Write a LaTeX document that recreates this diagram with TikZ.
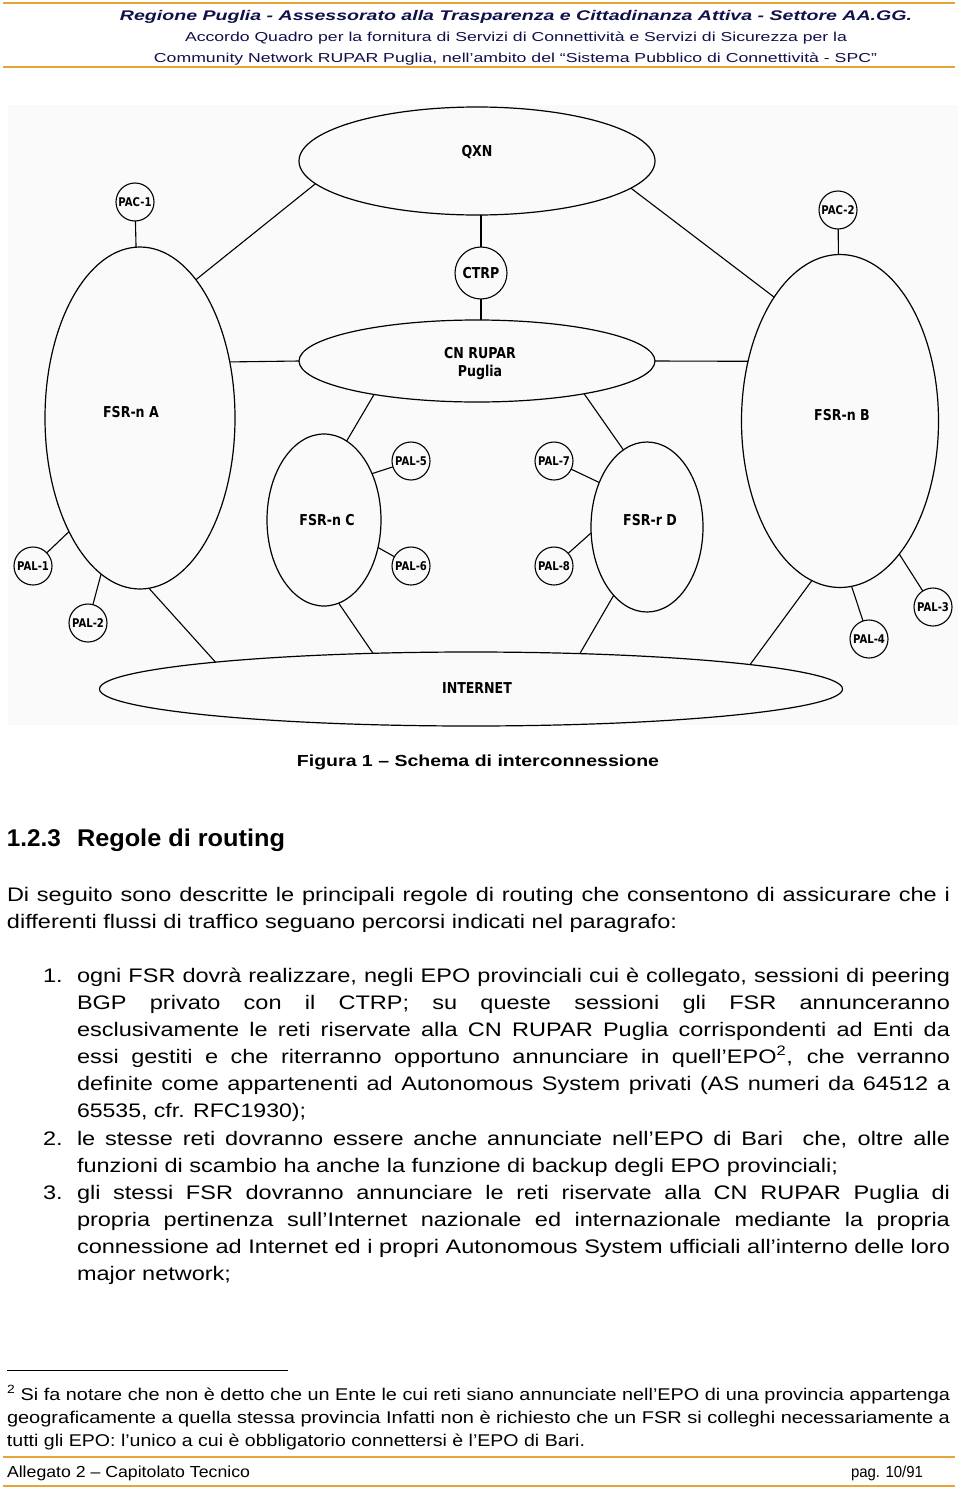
\documentclass[tikz,border=0pt]{standalone}
\usepackage{fontspec}
\usepackage{graphicx}
\usetikzlibrary{shapes.geometric}
\setmainfont{Liberation Sans}
\newfontfamily\bodyfam{Liberation Sans}[FakeStretch=1.2]
\newfontfamily\lblfam{DejaVu Sans}[FakeStretch=0.84]
\definecolor{gold}{HTML}{E6A537}
\definecolor{hdr}{HTML}{10104A}
\definecolor{diagbg}{HTML}{FAFAFA}
\newsavebox\jbox
\newcommand\fitw[2]{\resizebox{#1}{\height}{#2}}
\newcommand\jline[2]{\sbox\jbox{#2}\ifdim\wd\jbox>#1\relax\resizebox{#1}{\height}{\usebox\jbox}\else\makebox[#1][s]{#2}\fi}
\newcommand\fbody{\bodyfam\fontsize{19.6}{24}\selectfont}
\newcommand\fnote{\bodyfam\fontsize{17}{21}\selectfont}
\newcommand\ffoot{\bodyfam\fontsize{16}{20}\selectfont}
\begin{document}
\begin{tikzpicture}[x=1pt,y=-1pt,
  txt/.style={anchor=base west,inner sep=0pt,outer sep=0pt},
  ctxt/.style={anchor=base,inner sep=0pt,outer sep=0pt},
  ell/.style={ellipse,draw,line width=1.2pt,inner sep=0pt,outer sep=0pt},
  smallc/.style={circle,draw,line width=1.1pt,inner sep=0pt,outer sep=0pt,minimum size=38pt,
     font=\lblfam\bfseries\fontsize{12}{14}\selectfont},
  lbl/.style={inner sep=0pt,outer sep=0pt,font=\lblfam\bfseries\fontsize{15}{18}\selectfont,align=center},
  conn/.style={line width=1.1pt},
  goldline/.style={draw=gold,line width=2pt}]
\useasboundingbox[fill=white] (0,0) rectangle (960,1491);
% header
\draw[goldline] (3,3) -- (955,3);
\draw[goldline] (3,67) -- (955,67);
\node[ctxt,text=hdr] (h1) at (516,20) {\bodyfam\bfseries\itshape\fontsize{14}{16}\selectfont\fitw{792pt}{Regione Puglia - Assessorato alla Trasparenza e Cittadinanza Attiva - Settore AA.GG.}};
\node[ctxt,text=hdr] (h2) at (516,41) {\bodyfam\fontsize{13}{15}\selectfont\fitw{662pt}{Accordo Quadro per la fornitura di Servizi di Connettività e Servizi di Sicurezza per la}};
\node[ctxt,text=hdr] (h3) at (515.5,62) {\bodyfam\fontsize{13}{15}\selectfont\fitw{723pt}{Community Network RUPAR Puglia, nell’ambito del “Sistema Pubblico di Connettività - SPC”}};
% diagram background
\fill[diagbg] (8,105) rectangle (958,725);
% diagram nodes
\node[ell,minimum width=356pt,minimum height=108pt] (qxn) at (477,161) {};
\node[lbl] (qxnt) at (477,152) {QXN};
\node[smallc,minimum size=52pt,font=\lblfam\bfseries\fontsize{15}{18}\selectfont] (ctrp) at (481,273) {CTRP};
\node[ell,minimum width=356pt,minimum height=82pt] (cn) at (477,361) {};
\node[lbl,font=\lblfam\bfseries\fontsize{15}{18}\selectfont] (cnt) at (480,364) {CN RUPAR\\Puglia};
\node[ell,minimum width=190pt,minimum height=342pt] (fsrA) at (140,418) {};
\node[lbl] (fsrAt) at (131,412) {FSR-n A};
\node[ell,minimum width=197pt,minimum height=333pt] (fsrB) at (840,421) {};
\node[lbl] (fsrBt) at (842,415) {FSR-n B};
\node[ell,minimum width=114pt,minimum height=172pt] (fsrC) at (324,520) {};
\node[lbl] (fsrCt) at (327,520) {FSR-n C};
\node[ell,minimum width=112pt,minimum height=170pt] (fsrD) at (647,527) {};
\node[lbl] (fsrDt) at (650,520) {FSR-r D};
\node[ell,minimum width=743pt,minimum height=74pt] (inet) at (471,689) {};
\node[lbl] (inett) at (477,688) {INTERNET};
\node[smallc] (pac1) at (135,202) {PAC-1};
\node[smallc] (pac2) at (838,210) {PAC-2};
\node[smallc] (pal1) at (33,566) {PAL-1};
\node[smallc] (pal2) at (88,623) {PAL-2};
\node[smallc] (pal3) at (933,607) {PAL-3};
\node[smallc] (pal4) at (869,639) {PAL-4};
\node[smallc] (pal5) at (411,461) {PAL-5};
\node[smallc] (pal6) at (411,566) {PAL-6};
\node[smallc] (pal7) at (554,461) {PAL-7};
\node[smallc] (pal8) at (554,566) {PAL-8};
% connectors
\draw[conn] (pac1) -- (fsrA);
\draw[conn] (pac2) -- (fsrB);
\draw[conn] (qxn.188) -- (fsrA.68);
\draw[conn] (qxn.350) -- (fsrB.118);
\draw[conn] (ctrp.north) -- (ctrp.north |- qxn.south);
\draw[conn] (ctrp.south) -- (ctrp.south |- cn.north);
\draw[conn] (cn.west) -- (fsrA.32);
\draw[conn] (cn.east) -- (fsrB.147);
\draw[conn] (cn.198) -- (fsrC.74);
\draw[conn] (cn.343) -- (fsrD.107);
\draw[conn] (pal5) -- (fsrC.44);
\draw[conn] (pal6) -- (fsrC.333);
\draw[conn] (pal7) -- (fsrD.137);
\draw[conn] (pal8) -- (fsrD.186);
\draw[conn] (pal1) -- (fsrA.238);
\draw[conn] (pal2) -- (fsrA.256);
\draw[conn] (pal3) -- (fsrB.294);
\draw[conn] (pal4) -- (fsrB.274);
\draw[conn] (fsrA.273) -- (inet.174);
\draw[conn] (fsrC.280) -- (inet.160);
\draw[conn] (fsrD.244) -- (inet.18);
\draw[conn] (fsrB.260) -- (inet.5);
% caption and heading
\node[ctxt] (cap) at (478,766) {\bodyfam\bfseries\fontsize{16}{19}\selectfont\fitw{362pt}{Figura 1 – Schema di interconnessione}};
\node[txt] (hnum) at (7,846) {\bodyfam\bfseries\fontsize{24.2}{28}\selectfont\fitw{54pt}{1.2.3}};
\node[txt] (htit) at (77,846) {\bodyfam\bfseries\fontsize{24.2}{28}\selectfont\fitw{208pt}{Regole di routing}};
% paragraph
\node[txt] (p1) at (7,901) {\fbody\jline{943pt}{Di seguito sono descritte le principali regole di routing che consentono di assicurare che i}};
\node[txt] (p2) at (7,928) {\fbody\fitw{670pt}{differenti flussi di traffico seguano percorsi indicati nel paragrafo:}};
% list
\node[txt] (n1) at (43,982) {\fbody 1.};
\node[txt] (a1) at (77,982) {\fbody\jline{873pt}{ogni FSR dovrà realizzare, negli EPO provinciali cui è collegato, sessioni di peering}};
\node[txt] (a2) at (77,1009) {\fbody\jline{873pt}{BGP privato con il CTRP; su queste sessioni gli FSR annunceranno}};
\node[txt] (a3) at (77,1036) {\fbody\jline{873pt}{esclusivamente le reti riservate alla CN RUPAR Puglia corrispondenti ad Enti da}};
\node[txt] (a4) at (77,1063) {\fbody\jline{873pt}{essi gestiti e che riterranno opportuno annunciare in quell’EPO\textsuperscript{2}, che verranno}};
\node[txt] (a5) at (77,1090) {\fbody\jline{873pt}{definite come appartenenti ad Autonomous System privati (AS numeri da 64512 a}};
\node[txt] (a6) at (77,1117) {\fbody\fitw{229pt}{65535, cfr. RFC1930);}};
\node[txt] (n2) at (43,1145) {\fbody 2.};
\node[txt] (b1) at (77,1145) {\fbody\jline{873pt}{le stesse reti dovranno essere anche annunciate nell’EPO di Bari\ \ che, oltre alle}};
\node[txt] (b2) at (77,1172) {\fbody\fitw{761pt}{funzioni di scambio ha anche la funzione di backup degli EPO provinciali;}};
\node[txt] (n3) at (43,1199) {\fbody 3.};
\node[txt] (c1) at (77,1199) {\fbody\jline{873pt}{gli stessi FSR dovranno annunciare le reti riservate alla CN RUPAR Puglia di}};
\node[txt] (c2) at (77,1226) {\fbody\jline{873pt}{propria pertinenza sull’Internet nazionale ed internazionale mediante la propria}};
\node[txt] (c3) at (77,1253) {\fbody\jline{873pt}{connessione ad Internet ed i propri Autonomous System ufficiali all’interno delle loro}};
\node[txt] (c4) at (77,1280) {\fbody\fitw{154pt}{major network;}};
% footnote
\draw[line width=0.9pt] (7,1370) -- (288,1370);
\node[txt] (f1) at (7,1400) {\fnote\jline{943pt}{\textsuperscript{2} Si fa notare che non è detto che un Ente le cui reti siano annunciate nell’EPO di una provincia appartenga}};
\node[txt] (f2) at (7,1423) {\fnote\jline{943pt}{geograficamente a quella stessa provincia Infatti non è richiesto che un FSR si colleghi necessariamente a}};
\node[txt] (f3) at (7,1446) {\fnote\fitw{578pt}{tutti gli EPO: l’unico a cui è obbligatorio connettersi è l’EPO di Bari.}};
% footer
\draw[goldline] (3,1457) -- (955,1457);
\node[txt] (ft1) at (7,1477) {\ffoot\fitw{243pt}{Allegato 2 – Capitolato Tecnico}};
\node[txt] (ft2) at (851,1477) {\ffoot\fitw{72pt}{pag. 10/91}};
\draw[goldline] (3,1486) -- (955,1486);
\end{tikzpicture}
\end{document}
